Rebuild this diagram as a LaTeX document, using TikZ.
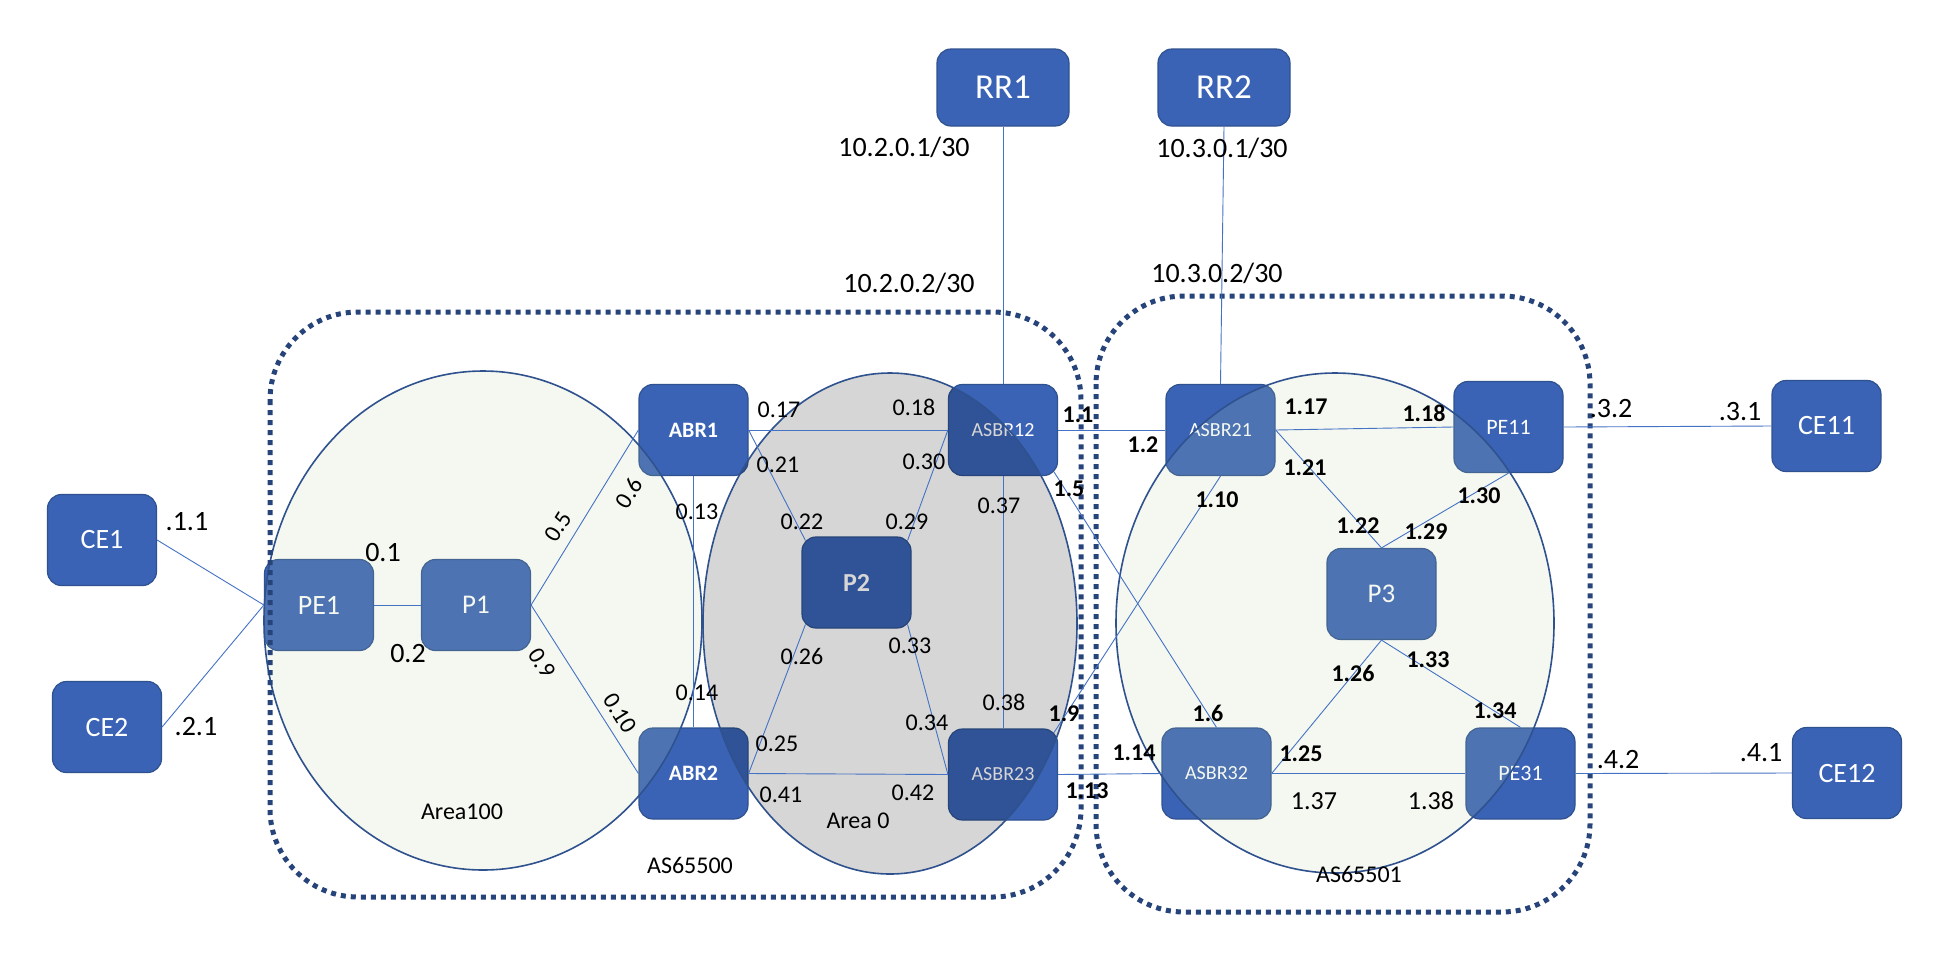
\documentclass[tikz,border=0pt]{standalone}
\usepackage{fontspec}
\setmainfont{Carlito}
\definecolor{nodeblue}{RGB}{58,99,182}
\definecolor{nodeborder}{RGB}{47,82,143}
\definecolor{linkblue}{RGB}{68,114,196}
\definecolor{areanavy}{RGB}{47,82,143}
\definecolor{asnavy}{RGB}{38,68,122}
\definecolor{lightarea}{RGB}{190,210,160}
\tikzset{
  dev/.style={draw=nodeborder, line width=1.2pt, fill=nodeblue, rounded corners=14pt,
    minimum width=109pt, minimum height=91pt, text=white, inner sep=0pt,
    font=\fontsize{28}{30}\selectfont},
  rr/.style={dev, minimum width=132pt, minimum height=77pt, font=\fontsize{35}{38}\selectfont},
  asbr/.style={dev, font=\fontsize{20}{22}\selectfont},
  pe/.style={dev, font=\fontsize{22}{24}\selectfont},
  abr/.style={dev, font=\fontsize{22}{24}\selectfont\bfseries},
  lnk/.style={draw=linkblue, line width=0.9pt},
  lab/.style={font=\fontsize{24}{26}\selectfont, inner sep=0pt},
  blab/.style={font=\fontsize{24}{26}\selectfont\bfseries, inner sep=0pt},
  mlab/.style={font=\fontsize{26}{28}\selectfont, inner sep=0pt},
  biglab/.style={font=\fontsize{28}{30}\selectfont, inner sep=0pt},
  asbox/.style={draw=asnavy, line width=5pt, dash pattern=on 5pt off 5pt, rounded corners=88pt},
  arealine/.style={draw=areanavy, line width=1.6pt},
}
\begin{document}
\begin{tikzpicture}[x=1pt,y=-1pt]
\useasboundingbox[fill=white] (0,0) rectangle (1936,962);

% devices
\node[dev] (CE1) at (102,540) {CE1};
\node[dev] (CE2) at (107,727) {CE2};
\node[dev] (PE1) at (319,605) {PE1};
\node[dev, font=\fontsize{27}{29}\selectfont] (P1) at (476,605) {P1};
\node[abr] (ABR1) at (693.5,430) {ABR1};
\node[abr] (ABR2) at (693.5,773.5) {ABR2};
\node[dev, font=\fontsize{26}{28}\selectfont\bfseries] (P2) at (856.5,582.5) {P2};
\node[asbr] (ASBR12) at (1003,430) {ASBR12};
\node[asbr] (ASBR23) at (1003,774.5) {ASBR23};
\node[rr] (RR1) at (1003,87.5) {RR1};
\node[rr] (RR2) at (1224,87.5) {RR2};
\node[asbr] (ASBR21) at (1220.5,430) {ASBR21};
\node[pe] (PE11) at (1508.5,427) {PE11};
\node[dev, font=\fontsize{27}{29}\selectfont] (P3) at (1381.5,594) {P3};
\node[asbr] (ASBR32) at (1216.5,773.5) {ASBR32};
\node[pe] (PE31) at (1520.5,773.5) {PE31};
\node[dev] (CE11) at (1826.5,426) {CE11};
\node[dev] (CE12) at (1847,773) {CE12};

% areas (semi-transparent over devices)
\fill[lightarea, fill opacity=0.15] (483,620.5) ellipse [x radius=219pt, y radius=249.5pt];
\fill[black, fill opacity=0.16] (890,623.5) ellipse [x radius=187pt, y radius=250.5pt];
\fill[lightarea, fill opacity=0.15] (1335,623) ellipse [x radius=219pt, y radius=250pt];
\draw[arealine] (483,620.5) ellipse [x radius=219pt, y radius=249.5pt];
\draw[arealine] (890,623.5) ellipse [x radius=187pt, y radius=250.5pt];
\draw[arealine] (1335,623) ellipse [x radius=219pt, y radius=250pt];

% AS boundaries
\draw[asbox] (270,312) rectangle (1081,897);
\draw[asbox] (1096,296) rectangle (1590,912);

% links
\draw[lnk] (CE1.east) -- (PE1.west);
\draw[lnk] (CE2.east) -- (PE1.west);
\draw[lnk] (PE1.east) -- (P1.west);
\draw[lnk] (P1.east) -- (ABR1.west);
\draw[lnk] (P1.east) -- (ABR2.west);
\draw[lnk] (ABR1.south) -- (ABR2.north);
\draw[lnk] (ABR1.east) -- (ASBR12.west);
\draw[lnk] (ABR1.east) -- ([shift={(4,4)}]P2.north west);
\draw[lnk] (ASBR12.west) -- ([shift={(-4,4)}]P2.north east);
\draw[lnk] (ABR2.east) -- ([shift={(4,-4)}]P2.south west);
\draw[lnk] (ASBR23.west) -- ([shift={(-4,-4)}]P2.south east);
\draw[lnk] (ABR2.east) -- (ASBR23.west);
\draw[lnk] (ASBR12.south) -- (ASBR23.north);
\draw[lnk] (RR1.south) -- (ASBR12.north);
\draw[lnk] (RR2.south) -- (ASBR21.north);
\draw[lnk] (ASBR12.east) -- (ASBR21.west);
\draw[lnk] ([shift={(-4,-4)}]ASBR12.south east) -- (ASBR32.north);
\draw[lnk] ([shift={(-4,4)}]ASBR23.north east) -- (ASBR21.south);
\draw[lnk] (ASBR23.east) -- (ASBR32.west);
\draw[lnk] (ASBR21.east) -- (PE11.west);
\draw[lnk] (ASBR21.east) -- (P3.north);
\draw[lnk] (PE11.south) -- (P3.north);
\draw[lnk] (P3.south) -- (ASBR32.east);
\draw[lnk] (P3.south) -- (PE31.north);
\draw[lnk] (ASBR32.east) -- (PE31.west);
\draw[lnk] (PE11.east) -- (CE11.west);
\draw[lnk] (PE31.east) -- (CE12.west);

% RR addresses
\node[biglab] (l1) at (904,147) {10.2.0.1/30};
\node[biglab] (l2) at (1222,148) {10.3.0.1/30};
\node[biglab] (l3) at (909,283) {10.2.0.2/30};
\node[biglab] (l4) at (1217,273) {10.3.0.2/30};

% CE side addresses
\node[biglab] (l5) at (187,522) {.1.1};
\node[biglab] (l6) at (196,727) {.2.1};
\node[biglab] (l7) at (1611,409) {.3.2};
\node[biglab] (l8) at (1740,412) {.3.1};
\node[biglab] (l9) at (1618,760) {.4.2};
\node[biglab] (l10) at (1761,753) {.4.1};

% AS65500 labels
\node[biglab] (a1) at (383,553) {0.1};
\node[biglab] (a2) at (408,654) {0.2};
\node[lab, rotate=58] (a3) at (558,527) {0.5};
\node[lab, rotate=58] (a4) at (629,493) {0.6};
\node[lab, rotate=-58] (a5) at (542,663) {0.9};
\node[lab, rotate=-58] (a6) at (620,713) {0.10};
\node[lab] (a7) at (697,512) {0.13};
\node[lab] (a8) at (697,693) {0.14};
\node[lab] (a9) at (779,410) {0.17};
\node[lab] (a10) at (914,407) {0.18};
\node[lab] (a11) at (778,465) {0.21};
\node[lab] (a12) at (924,462) {0.30};
\node[lab] (a13) at (999,506) {0.37};
\node[lab] (a14) at (802,522) {0.22};
\node[lab] (a15) at (907,522) {0.29};
\node[lab] (a16) at (802,656) {0.26};
\node[lab] (a17) at (910,646) {0.33};
\node[lab] (a18) at (1004,702) {0.38};
\node[lab] (a19) at (927,723) {0.34};
\node[lab] (a20) at (777,744) {0.25};
\node[lab] (a21) at (781,795) {0.41};
\node[lab] (a22) at (913,793) {0.42};

% AS65501 labels
\node[blab] (b1) at (1078,415) {1.1};
\node[blab] (b2) at (1143,445) {1.2};
\node[blab] (b3) at (1069,489) {1.5};
\node[blab] (b4) at (1064,714) {1.9};
\node[blab] (b5) at (1087,791) {1.13};
\node[blab] (b6) at (1134,753) {1.14};
\node[blab] (b7) at (1306,407) {1.17};
\node[blab] (b8) at (1424,413) {1.18};
\node[blab] (b9) at (1305,468) {1.21};
\node[blab] (b10) at (1479,496) {1.30};
\node[blab] (b11) at (1217,500) {1.10};
\node[blab] (b12) at (1358,526) {1.22};
\node[blab] (b13) at (1426,532) {1.29};
\node[blab] (b14) at (1428,660) {1.33};
\node[blab] (b15) at (1353,673) {1.26};
\node[blab] (b16) at (1495,711) {1.34};
\node[blab] (b17) at (1208,713) {1.6};
\node[blab] (b18) at (1301,754) {1.25};
\node[mlab] (b19) at (1314,801) {1.37};
\node[mlab] (b20) at (1431,801) {1.38};

% area / AS names
\node[lab] (n1) at (462,812) {Area100};
\node[lab] (n2) at (858,821) {Area 0};
\node[lab] (n3) at (690,865) {AS65500};
\node[lab] (n4) at (1359,874) {AS65501};
\end{tikzpicture}
\end{document}
